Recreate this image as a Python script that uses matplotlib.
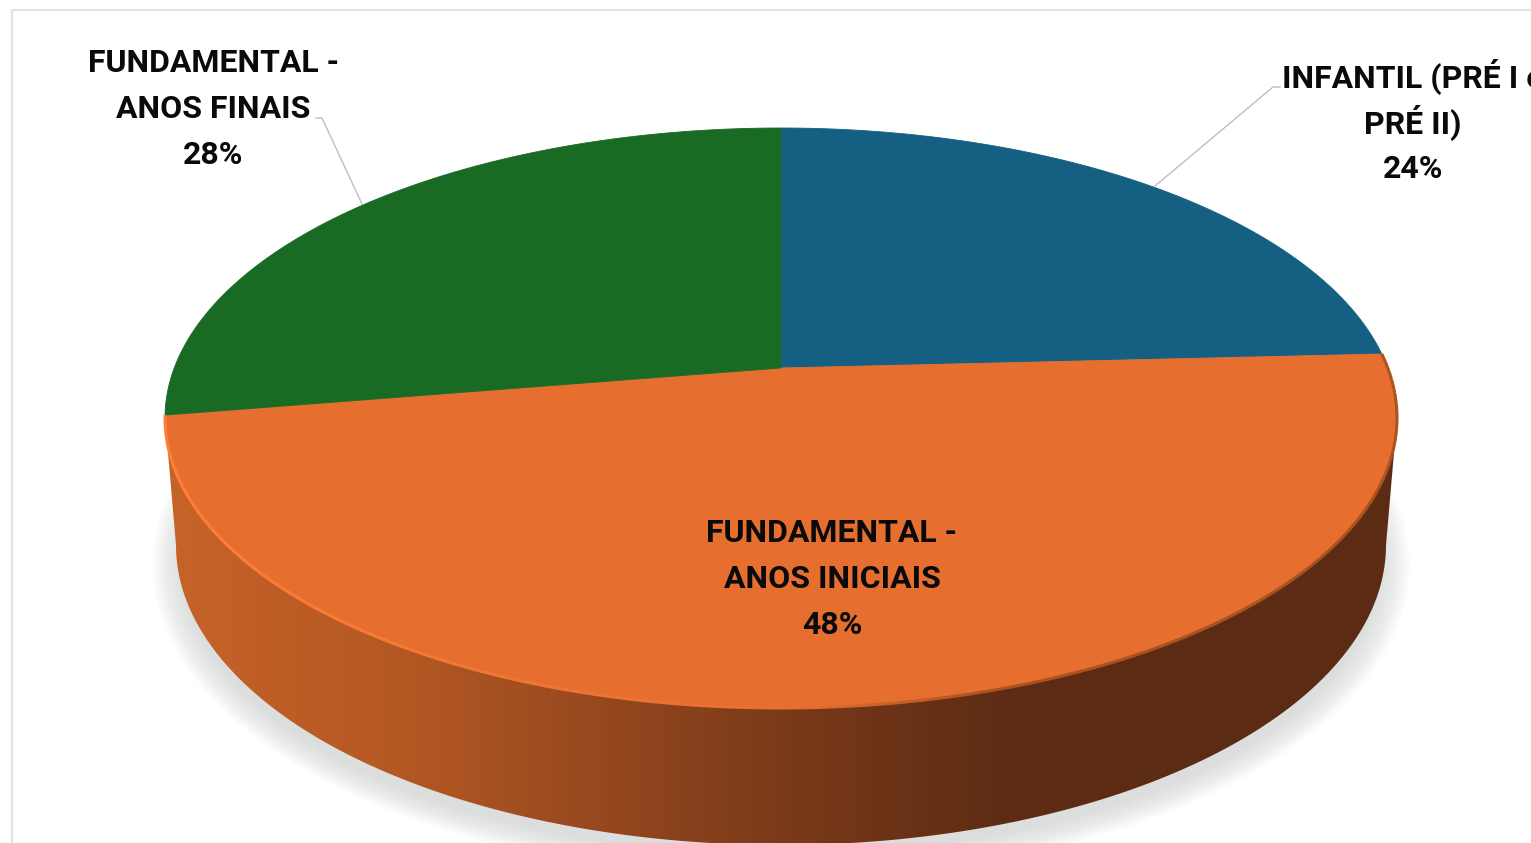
import matplotlib
matplotlib.use("Agg")
import matplotlib.pyplot as plt
from matplotlib.collections import LineCollection
from matplotlib.colors import LinearSegmentedColormap, to_rgb
from matplotlib.patches import Polygon
import numpy as np

labels = ["INFANTIL (PRÉ I e\nPRÉ II)", "FUNDAMENTAL -\nANOS INICIAIS", "FUNDAMENTAL -\nANOS FINAIS"]
values = [24.2, 48.2, 27.6]
colors = ["#156082", "#E66F30", "#196B24"]

# where the text goes (center x, y of the first line)
label_pos = [(1413, 77), (832, 533), (213, 63)]
line_h = 46

wall_x = [165, 400, 600, 781, 1000, 1397]
wall_c = ["#C66329", "#B45823", "#96481F", "#7A3A19", "#5E2C14", "#5B2B13"]

# pie geometry, in pixels of the picture
cx, cy, ra, rb = 781, 418, 616, 290
apex_y = 368
bot_cy, bot_a, bot_b = 545, 605, 300

plt.rcParams["font.family"] = ["Roboto", "DejaVu Sans"]

fig = plt.figure(figsize=(15.31, 8.43), dpi=100)
ax = fig.add_axes([0, 0, 1, 1])
ax.set_xlim(0, 1531)
ax.set_ylim(843, 0)
ax.axis("off")

# frame of the screenshot
ax.plot([12, 12, 1531], [843, 10, 10], color="#E3E3E3", lw=1.5)

# perspective of the circle, the center of the pie is not the center of the ellipse
c = (cy - apex_y) / rb


def project(theta):
    x = np.sin(theta)
    y = np.cos(theta)
    d = 1 + c * y
    return cx + ra * x * np.sqrt(1 - c ** 2) / d, cy - rb * (y + c) / d


# shadow
for i in range(14):
    k = i / 13
    t = np.linspace(0, 2 * np.pi, 300)
    ax.fill(cx + (bot_a + 24 - 30 * k) * np.cos(t), bot_cy + 20 + (bot_b + 14 - 24 * k) * np.sin(t),
            color="#B8BABC", alpha=0.04, lw=0)

# side wall
t = np.linspace(0, np.pi, 300)
wall = np.column_stack([cx + bot_a * np.cos(t), bot_cy + bot_b * np.sin(t)])
wall = np.vstack([[[cx + ra, cy]], wall, [[cx - ra, cy]]])
stops = [(x - wall_x[0]) / (wall_x[-1] - wall_x[0]) for x in wall_x]
cmap = LinearSegmentedColormap.from_list("wall", list(zip(stops, wall_c)))
img = ax.imshow(np.linspace(0, 1, 600).reshape(1, -1), cmap=cmap, aspect="auto",
                extent=(wall_x[0], wall_x[-1], 860, 400), zorder=2)
img.set_clip_path(Polygon(wall, transform=ax.transData))
ax.set_xlim(0, 1531)
ax.set_ylim(843, 0)

# top of the pie
start = 0
arcs = []
for v, col in zip(values, colors):
    end = start + v / sum(values) * 2 * np.pi
    th = np.linspace(start, end, 200)
    px, py = project(th)
    ax.fill(np.r_[cx, px], np.r_[apex_y, py], color=col, lw=0.6, zorder=3)
    arcs.append((th, px, py))
    start = end

# lit rim of the orange slice, goes dark on the right
th, px, py = arcs[1]
pts = np.column_stack([px, py]).reshape(-1, 1, 2)
segs = np.concatenate([pts[:-1], pts[1:]], axis=1)
lit = np.array(to_rgb("#FF7F38"))
base = np.array(to_rgb(colors[1]))
dark = np.array(to_rgb("#A8531F"))
rim = []
for x in px[:-1]:
    if x < 800:
        w = np.clip((x - 170) / 630, 0, 1)
        rim.append(lit * (1 - w) + base * w)
    else:
        w = np.clip((x - 800) / 200, 0, 1)
        rim.append(base * (1 - w) + dark * w)
ax.add_collection(LineCollection(segs, colors=rim, linewidths=2.2, zorder=4))

# leader lines
ax.plot([1280, 1273, 1155], [87, 87, 186], color="#BFBFBF", lw=1, zorder=1)
ax.plot([316, 322, 362], [118, 118, 204], color="#BFBFBF", lw=1, zorder=1)

# labels, line by line
for lab, v, (tx, ty) in zip(labels, values, label_pos):
    lines = lab.split("\n") + [f"{v:.0f}%"]
    for i, s in enumerate(lines):
        ax.text(tx, ty + i * line_h, s, ha="center", va="center", fontsize=23,
                fontweight="bold", color="#0A0A0A", zorder=5)

fig.savefig("out.png", dpi=100)
